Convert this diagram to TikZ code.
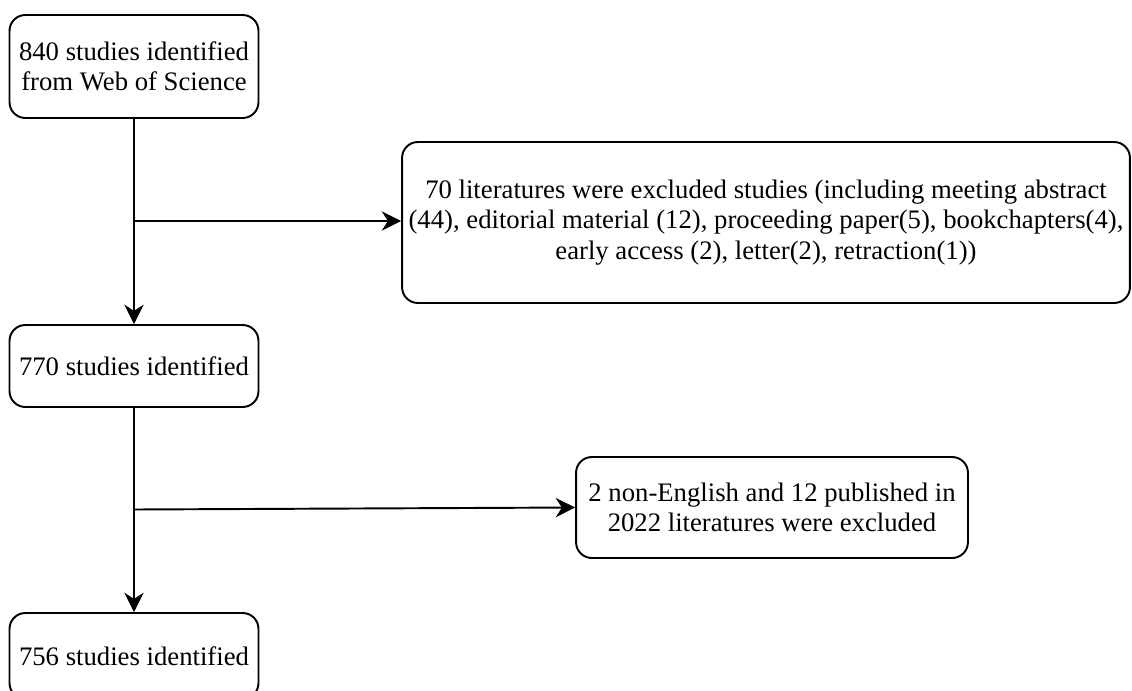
\documentclass[tikz,border=0pt]{standalone}
\usepackage{fontspec}
\setmainfont{Liberation Serif}
\usepackage{tikz}
\usetikzlibrary{arrows.meta}

\tikzset{
  flowbox/.style={draw, line width=1.1pt, rounded corners=9pt, align=center,
    inner sep=0pt, font=\fontsize{15.2}{17.2}\selectfont},
  flowarr/.style={line width=1.1pt, -{Stealth[length=11pt, width=11pt, inset=3.5pt]}}
}

\begin{document}
\begin{tikzpicture}[x=0.02cm, y=-0.02cm]
      \useasboundingbox (0, 0) rectangle (1132, 690);
      % main column
      \node[flowbox, minimum width=4.98cm, minimum height=2.06cm] (wos) at (134, 66.5)
        {840 studies identified\\from Web of Science};
      \node[flowbox, minimum width=4.98cm, minimum height=1.64cm] (first) at (134, 366)
        {770 studies identified};
      \node[flowbox, minimum width=4.98cm, minimum height=1.72cm] (final) at (134, 656)
        {756 studies identified};
      % excluded boxes
      \node[flowbox, minimum width=14.56cm, minimum height=3.22cm] (excl) at (766, 222.5)
        {70 literatures were excluded studies (including meeting abstract\\
         (44), editorial material (12), proceeding paper(5), bookchapters(4),\\
         early access (2), letter(2), retraction(1))};
      \node[flowbox, minimum width=7.84cm, minimum height=2.02cm] (lang) at (772, 507.5)
        {2 non-English and 12 published in\\2022 literatures were excluded};
      % connectors
      \coordinate (splitA) at (134, 221);
      \coordinate (splitB) at (134, 509.5);
      \draw[flowarr] (wos) -- (first);
      \draw[flowarr] (splitA) -- (splitA -| excl.west);
      \draw[flowarr] (first) -- (final);
      \draw[flowarr] (splitB) -- (lang.west);
\end{tikzpicture}
\end{document}
